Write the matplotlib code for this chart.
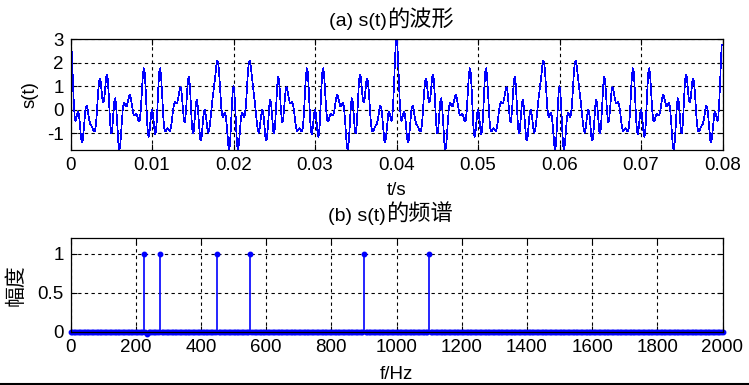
import numpy as np
import matplotlib
matplotlib.use("Agg")
import matplotlib.pyplot as plt

plt.rcParams['font.family'] = ['Liberation Sans', 'Noto Sans CJK SC', 'DejaVu Sans']
plt.rcParams['font.size'] = 13.5
plt.rcParams['axes.unicode_minus'] = False

# spectral lines
line_freqs = [225, 275, 450, 550, 900, 1100]   # Hz
line_amps = [1, 1, 1, 1, 1, 1]                  # normalised magnitude
wave_amp = 0.5                                  # each line's cosine amplitude in s(t) (peak of s = 3)
small_freqs = [237.5]                           # the one bin just under zero
small_amps = [-0.03]

fs = 10000
t_end = 0.08
df = 5
f_max = 2000

t = np.arange(0, t_end, 1 / fs)
s = np.zeros_like(t)
for f, a in zip(line_freqs, line_amps):
    s += wave_amp * a * np.cos(2 * np.pi * f * t)

freq = np.arange(0, f_max + df / 2, df)
mag = np.zeros_like(freq)
for f, a in zip(line_freqs + small_freqs, line_amps + small_amps):
    mag[np.argmin(np.abs(freq - f))] = a

W, H = 749, 385
fig = plt.figure(figsize=(W / 100, H / 100), dpi=100)

def style(ax):
    ax.grid(True, color='black', linestyle=(0, (3, 3)), linewidth=0.8)
    ax.tick_params(direction='in', length=4, width=0.8, labelsize=13.5, top=True, right=True,
                   colors='black', pad=5)
    for sp in ax.spines.values():
        sp.set_linewidth(0.9)

def title(x_split, y_base, latin, cjk):
    fig.text(x_split / W, 1 - y_base / H, latin, ha='right', va='baseline', fontsize=14,
             family='Liberation Sans')
    fig.text(x_split / W, 1 - y_base / H, cjk, ha='left', va='baseline', fontsize=16,
             family='Noto Sans CJK SC')

ax1 = fig.add_axes([70.5 / W, 1 - 150 / H, 652 / W, 111 / H])
ax1.plot(t, s, color='blue', linewidth=0.5, antialiased=False)
ax1.set_xlim(0, t_end)
ax1.set_ylim(s.min(), s.max())
ax1.set_xticks(np.arange(0, 0.081, 0.01))
ax1.set_xticklabels(['0'] + ['%.2f' % v for v in np.arange(0.01, 0.081, 0.01)])
ax1.set_yticks([-1, 0, 1, 2, 3])
style(ax1)
ax1.set_xlabel('t/s', labelpad=6)
ax1.set_ylabel('s(t)', labelpad=6)
title(387, 26, '(a) s(t)', '的波形')

ax2 = fig.add_axes([70.5 / W, 1 - 332 / H, 652 / W, 94 / H])
ax2.vlines(freq, 0, mag, color='blue', linewidth=1.2)
ax2.plot(freq, mag, linestyle='none', marker='o', markersize=3.2, color='blue', clip_on=False)
ax2.set_xlim(0, f_max)
ax2.set_ylim(0, 1.2)
ax2.set_xticks(np.arange(0, 2001, 200))
ax2.set_yticks([0, 0.5, 1])
ax2.set_yticklabels(['0', '0.5', '1'])
style(ax2)
ax2.set_xlabel('f/Hz', labelpad=7)
ax2.set_ylabel('幅度', fontsize=15, family='Noto Sans CJK SC', labelpad=8)
title(386, 221, '(b) s(t)', '的频谱')

fig.add_artist(plt.Line2D([0, 1], [1.5 / H, 1.5 / H], color='black', linewidth=1.5))

fig.savefig('out.png', dpi=100)
